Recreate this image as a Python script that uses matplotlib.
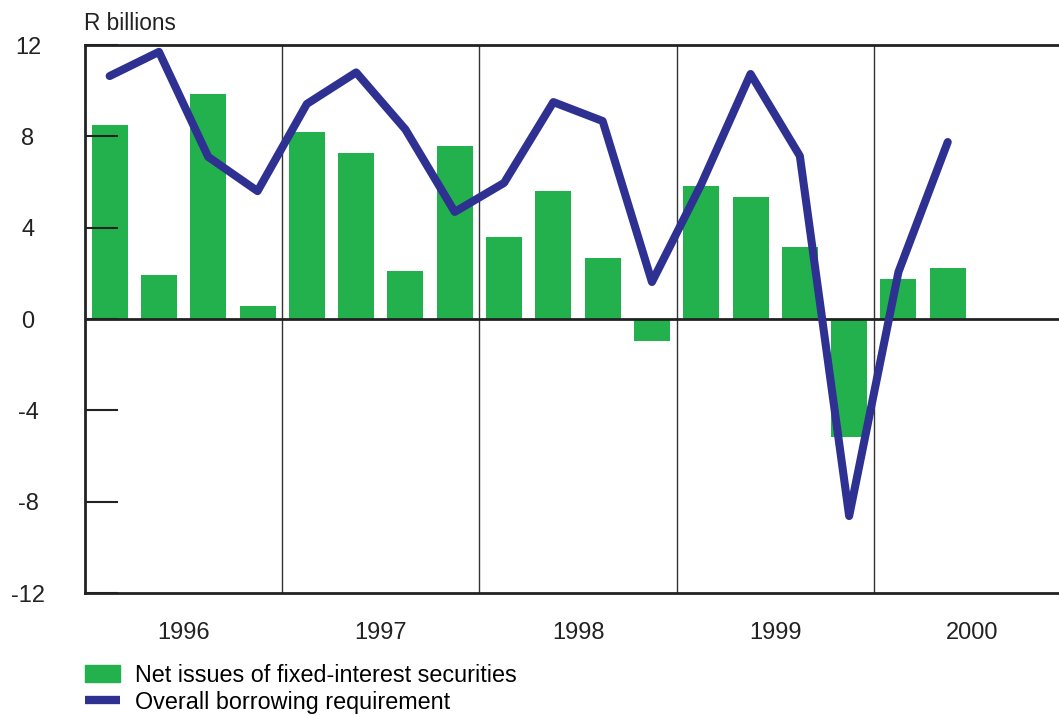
import matplotlib.pyplot as plt
import numpy as np
from matplotlib.patches import Patch
from matplotlib.lines import Line2D

plt.rcParams['font.family'] = ['Liberation Sans', 'DejaVu Sans']

years = ["1996", "1997", "1998", "1999", "2000"]

# quarterly values, R billions (1996Q1 .. 2000Q2)
net_issues = [8.5, 1.93, 9.85, 0.57,
              8.2, 7.27, 2.1, 7.58,
              3.6, 5.6, 2.67, -0.96,
              5.83, 5.34, 3.15, -5.17,
              1.75, 2.23]
borrowing = [10.64, 11.7, 7.1, 5.6,
             9.42, 10.8, 8.3, 4.69,
             5.96, 9.5, 8.67, 1.62,
             5.9, 10.73, 7.14, -8.63,
             2.06, 7.75]

green = "#23b14d"
blue = "#2e3192"

fig = plt.figure(figsize=(10.59, 7.15), dpi=100)
ax = fig.add_axes([85 / 1059, (715 - 593) / 715, (1059 - 85) / 1059, 548 / 715])
ax.set_axisbelow(False)

x = np.arange(len(net_issues)) + 0.5
ax.bar(x, net_issues, width=0.73, color=green, zorder=2)
ax.plot(x, borrowing, color=blue, lw=5.8, solid_capstyle="round",
        solid_joinstyle="round", zorder=4)

ax.axhline(0, color="#222222", lw=2, zorder=3)
for k in range(1, len(years)):
    ax.axvline(4 * k, color="#333333", lw=1, zorder=1)

ax.set_xlim(0, (1059 - 85) / 49.3)
ax.set_ylim(-12, 12)
ax.set_yticks([-12, -8, -4, 0, 4, 8, 12])
ax.set_yticklabels(["-12", "-8", "-4", "0", "4", "8", "12"])
ax.tick_params(axis="y", direction="in", length=24, width=1.5, pad=41,
               labelsize=17, colors="#222222")
for lbl in ax.get_yticklabels():
    lbl.set_horizontalalignment("center")
ax.set_xticks([4 * k + 2 for k in range(len(years))])
ax.set_xticklabels(years)
ax.tick_params(axis="x", length=0, pad=21, labelsize=17, colors="#222222")

for s in ["left", "top", "bottom"]:
    ax.spines[s].set_linewidth(2)
    ax.spines[s].set_color("#222222")
ax.spines["right"].set_visible(False)

fig.text(84 / 1059, 1 - 24 / 715, "R billions", fontsize=16.3, color="#222222",
         va="center", ha="left")

handles = [Patch(color=green, label="Net issues of fixed-interest securities"),
           Line2D([0], [0], color=blue, lw=6, solid_capstyle="butt",
                  label="Overall borrowing requirement")]
fig.legend(handles=handles, loc="upper left", bbox_to_anchor=(85 / 1059, 1 - 664 / 715),
           frameon=False, fontsize=16.8, handlelength=1.5, handleheight=0.75,
           labelspacing=0.16, handletextpad=0.65, borderpad=0, borderaxespad=0)

fig.savefig("out.png", dpi=100)
